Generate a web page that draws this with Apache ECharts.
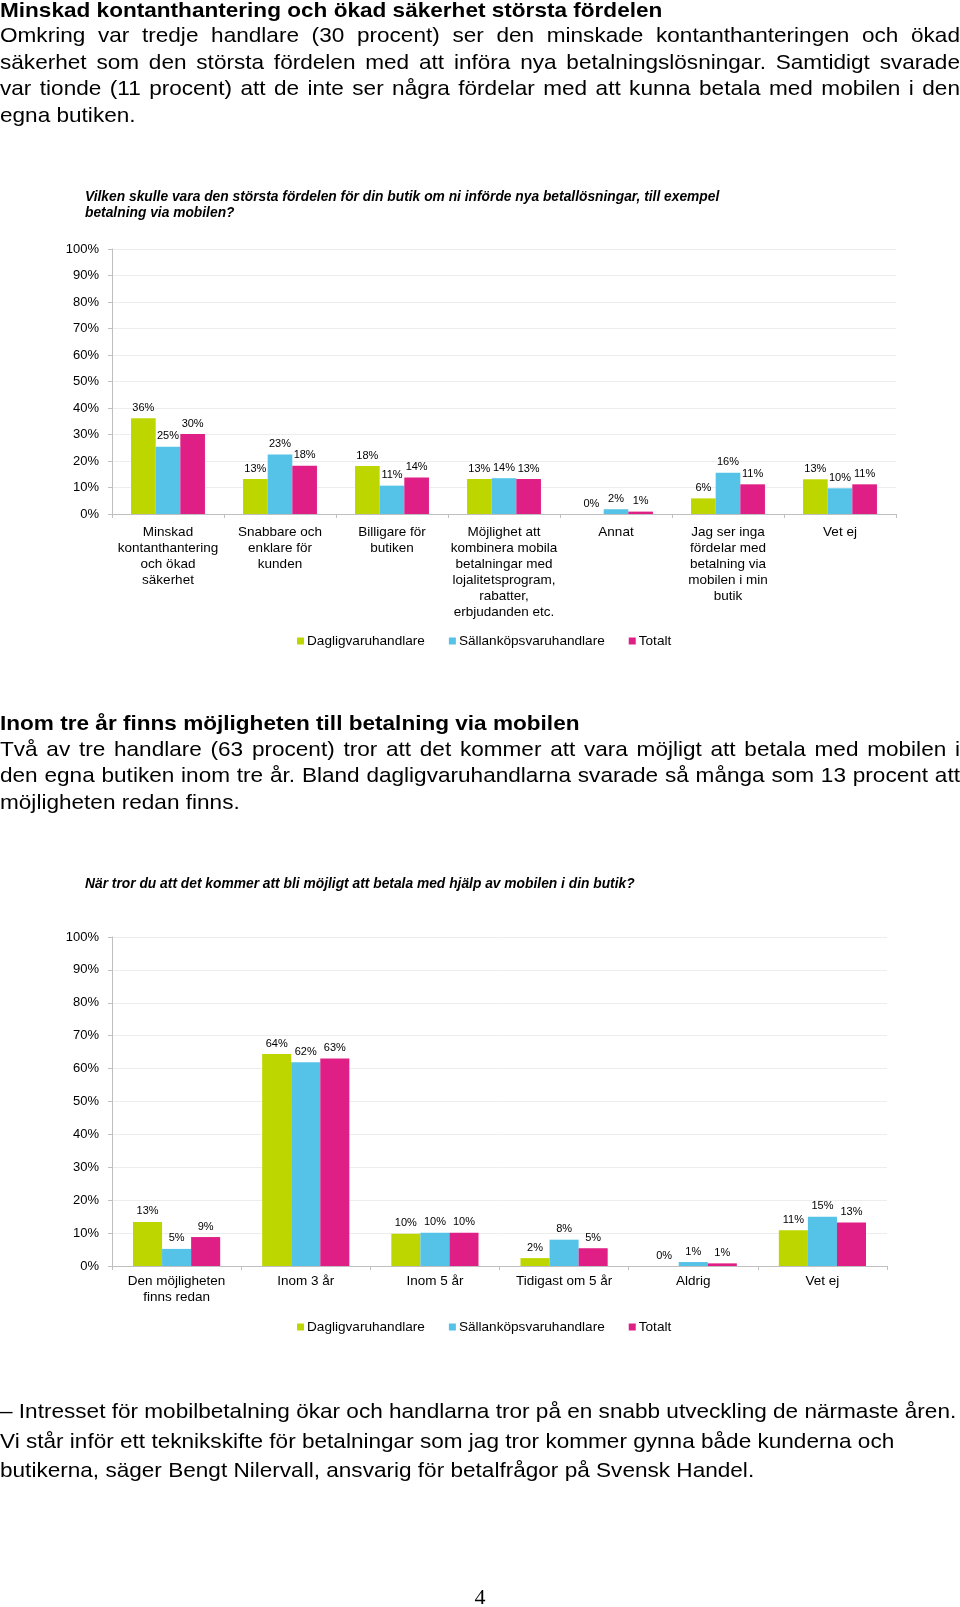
<!DOCTYPE html>
<html>
<head>
<meta charset="utf-8">
<script src="https://cdn.jsdelivr.net/npm/echarts@6/dist/echarts.min.js"></script>
<style>
  html, body { margin:0; padding:0; background:#fff; }
  #page { position:relative; width:960px; height:1607px; overflow:hidden; }
  #chart { position:absolute; left:0; top:0; width:960px; height:1607px; }
  .t { position:absolute; left:0; font-family:'Liberation Sans', Arial, sans-serif; font-size:21px; line-height:26px; color:#000; transform:scaleX(1.075); transform-origin:0 0; white-space:nowrap; }
  .b { font-weight:bold; font-size:21px; }
  .j { width:893px; white-space:normal; text-align:justify; text-align-last:justify; }
  .q { line-height:30px; }
  .pn { position:absolute; left:0; width:960px; text-align:center; font-family:'Liberation Serif', 'Times New Roman', serif; font-size:22px; line-height:26px; color:#000; }
</style>
</head>
<body>
<div id="page">
  <div id="chart"></div>
  <div class="t b" style="top:-3px">Minskad kontanthantering och ökad säkerhet största fördelen</div>
  <div class="t j" style="top:22px">Omkring var tredje handlare (30 procent) ser den minskade kontanthanteringen och ökad</div>
  <div class="t j" style="top:48.5px">säkerhet som den största fördelen med att införa nya betalningslösningar. Samtidigt svarade</div>
  <div class="t j" style="top:75px">var tionde (11 procent) att de inte ser några fördelar med att kunna betala med mobilen i den</div>
  <div class="t" style="top:101.7px">egna butiken.</div>

  <div class="t b" style="top:710px">Inom tre år finns möjligheten till betalning via mobilen</div>
  <div class="t j" style="top:736px">Två av tre handlare (63 procent) tror att det kommer att vara möjligt att betala med mobilen i</div>
  <div class="t j" style="top:762px">den egna butiken inom tre år. Bland dagligvaruhandlarna svarade så många som 13 procent att</div>
  <div class="t" style="top:788.5px">möjligheten redan finns.</div>

  <div class="t q" style="top:1396px">– Intresset för mobilbetalning ökar och handlarna tror på en snabb utveckling de närmaste åren.</div>
  <div class="t q" style="top:1425.5px">Vi står inför ett teknikskifte för betalningar som jag tror kommer gynna både kunderna och</div>
  <div class="t q" style="top:1455px">butikerna, säger Bengt Nilervall, ansvarig för betalfrågor på Svensk Handel.</div>

  <div class="pn" style="top:1584px">4</div>
</div>
<script>
// ---- Data ----
const seriesNames = ['Dagligvaruhandlare', 'Sällanköpsvaruhandlare', 'Totalt'];
const seriesColors = ['#BED600', '#55C2E7', '#DF1F85'];

const q1Title = 'Vilken skulle vara den största fördelen för din butik om ni införde nya betallösningar, till exempel\nbetalning via mobilen?';
const q1Categories = [
  'Minskad\nkontanthantering\noch ökad\nsäkerhet',
  'Snabbare och\nenklare för\nkunden',
  'Billigare för\nbutiken',
  'Möjlighet att\nkombinera mobila\nbetalningar med\nlojalitetsprogram,\nrabatter,\nerbjudanden etc.',
  'Annat',
  'Jag ser inga\nfördelar med\nbetalning via\nmobilen i min\nbutik',
  'Vet ej'
];
const q1Daglig = [36.1, 13.2, 18.1, 13.2, 0, 5.9, 13.1];
const q1Sallan = [25.4, 22.5, 10.7, 13.5, 1.8, 15.6, 9.7];
const q1Totalt = [30.2, 18.2, 13.8, 13.2, 0.9, 11.2, 11.2];

const q2Title = 'När tror du att det kommer att bli möjligt att betala med hjälp av mobilen i din butik?';
const q2Categories = [
  'Den möjligheten\nfinns redan',
  'Inom 3 år',
  'Inom 5 år',
  'Tidigast om 5 år',
  'Aldrig',
  'Vet ej'
];
const q2Daglig = [13.4, 64.4, 9.8, 2.4, 0, 10.9];
const q2Sallan = [5.2, 61.9, 10.1, 8.0, 1.2, 15.0];
const q2Totalt = [8.8, 63.1, 10.1, 5.4, 0.8, 13.2];

const yTicks = { min: 0, max: 100, interval: 10 };

// ---- Chart ----
const FF = "'Liberation Sans', Arial, sans-serif";
const chart = echarts.init(document.getElementById('chart'), null, { renderer: 'canvas' });

function yAxis(gi) {
  return {
    type: 'value', gridIndex: gi, min: yTicks.min, max: yTicks.max, interval: yTicks.interval,
    axisLine: { show: true, lineStyle: { color: '#BFBFBF', width: 1 } },
    axisTick: { show: true, length: 4, lineStyle: { color: '#BFBFBF' } },
    splitLine: { show: true, lineStyle: { color: '#EDEDED', width: 1 } },
    axisLabel: { formatter: '{value}%', fontSize: 13, color: '#000', fontFamily: FF, margin: 13 }
  };
}
function xAxis(gi, cats, margin) {
  return {
    type: 'category', gridIndex: gi, data: cats,
    axisLine: { show: true, lineStyle: { color: '#BFBFBF', width: 1 } },
    axisTick: { show: true, length: 4, alignWithLabel: false, lineStyle: { color: '#BFBFBF' } },
    axisLabel: { interval: 0, fontSize: 13.5, lineHeight: 16, color: '#000', fontFamily: FF, margin: margin, align: 'center' }
  };
}
function barSeries(name, color, data, gi, gap) {
  return {
    type: 'bar', name: name, data: data, xAxisIndex: gi, yAxisIndex: gi,
    barGap: '0%', barCategoryGap: gap,
    itemStyle: { color: color },
    label: { show: true, position: 'top', distance: 5, fontSize: 11, color: '#000', fontFamily: FF,
      formatter: p => Math.round(p.value) + '%' }
  };
}
function legend(top) {
  return {
    data: seriesNames, left: 297, top: top, padding: 0, icon: 'rect', itemWidth: 7, itemHeight: 7, itemGap: 24,
    textStyle: { fontSize: 13.6, color: '#000', fontFamily: FF, padding: [0, 0, 0, -2] }, selectedMode: false
  };
}
const titleStyle = { fontSize: 13.8, fontWeight: 'bold', fontStyle: 'italic', color: '#000', lineHeight: 16, fontFamily: FF };

chart.setOption({
  animation: false,
  color: seriesColors,
  title: [
    { text: q1Title, left: 85, top: 189, padding: 0, textStyle: titleStyle },
    { text: q2Title, left: 85, top: 876, padding: 0, textStyle: titleStyle }
  ],
  legend: [legend(634), legend(1320)],
  grid: [
    { left: 112, right: 64, top: 249, height: 265 },
    { left: 112, right: 73, top: 937, height: 329 }
  ],
  xAxis: [xAxis(0, q1Categories, 10), xAxis(1, q2Categories, 7)],
  yAxis: [yAxis(0), yAxis(1)],
  series: [
    barSeries(seriesNames[0], seriesColors[0], q1Daglig, 0, '34%'),
    barSeries(seriesNames[1], seriesColors[1], q1Sallan, 0, '34%'),
    barSeries(seriesNames[2], seriesColors[2], q1Totalt, 0, '34%'),
    barSeries(seriesNames[0], seriesColors[0], q2Daglig, 1, '32.5%'),
    barSeries(seriesNames[1], seriesColors[1], q2Sallan, 1, '32.5%'),
    barSeries(seriesNames[2], seriesColors[2], q2Totalt, 1, '32.5%')
  ]
});
</script>
</body>
</html>
